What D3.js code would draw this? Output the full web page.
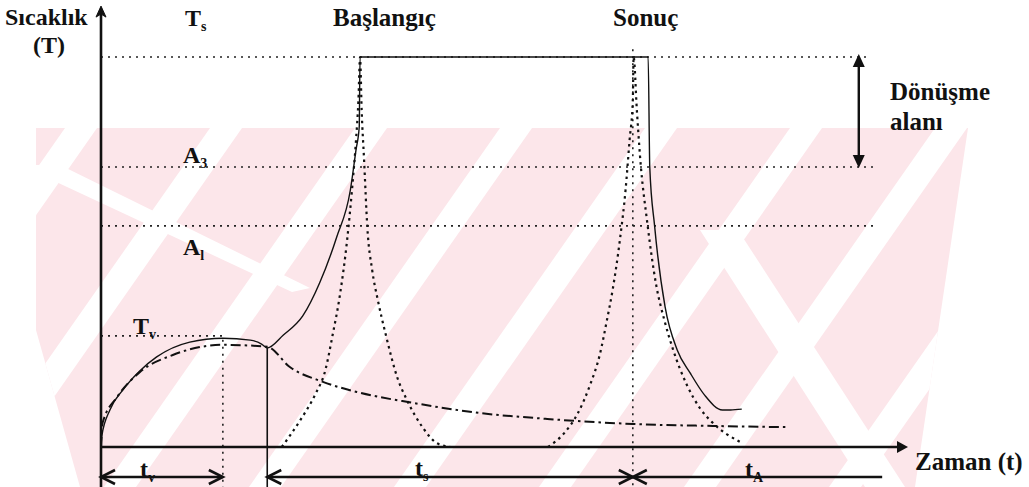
<!DOCTYPE html>
<html>
<head>
<meta charset="utf-8">
<script src="https://cdn.jsdelivr.net/npm/d3@7"></script>
<style>
  body { margin: 0; background: #fff; }
  svg { display: block; }
</style>
</head>
<body>
<svg id="chart" width="1029" height="487"></svg>
<script>
// time runs 0..10, temperature 0..100 (100 = Ts)
var levelNames = ["Ts", "A3", "A1", "Tv"];
var levelTemps = [100, 71.8, 56.7, 28.5];
var levelEnds  = [9.5, 9.6, 9.6, 1.51];

// surface temperature (solid)
var surface = [[0,0],[0.01,2.8],[0.11,9.5],[0.27,14.6],[0.48,19.5],[0.69,23.1],[1.1,26.9],
  [1.51,27.9],[1.85,27.4],[1.99,26.4],[2.06,25.4],[2.26,28.7],[2.5,33.6],[2.71,42.1],
  [2.92,53.8],[3.09,65.9],[3.16,76.2],[3.2,82.1],[3.21,100],[6.78,100],[6.8,71.8],
  [6.86,56.7],[6.99,35.9],[7.14,24.9],[7.3,19.0],[7.48,13.3],[7.7,9.5],[7.8,9.5],[7.94,9.7]];

// core temperature (dash-dot)
var core = [[0,0],[0.02,6.2],[0.2,12.8],[0.48,19.2],[0.89,23.6],[1.31,25.9],[1.51,26.2],
  [2.06,25.7],[2.34,20.5],[2.75,16.7],[3.17,14.1],[3.87,11.3],[4.7,8.7],[5.53,7.2],
  [6.59,5.9],[7.58,5.4],[8.48,5.1]];

// transformation start / end (dotted)
var startCurve = [[2.24,0],[2.47,6.9],[2.65,13.3],[2.78,19.7],[2.87,28.7],[2.96,38.9],
  [3.05,53.1],[3.11,65.9],[3.16,78.7],[3.19,89.0],[3.21,100],[3.23,86.4],[3.26,73.6],
  [3.3,56.4],[3.36,45.4],[3.43,37.7],[3.53,28.7],[3.67,17.9],[3.79,12.1],[3.99,4.9],
  [4.16,1.0],[4.33,0]];
var endCurve = [[5.54,0],[5.75,3.8],[5.91,8.7],[6.06,15.9],[6.18,23.6],[6.27,32.6],
  [6.34,40.3],[6.43,53.1],[6.5,65.9],[6.55,78.7],[6.59,89.0],[6.6,100],[6.64,86.4],
  [6.68,74.4],[6.77,57.4],[6.88,41.5],[6.98,32.6],[7.09,24.9],[7.26,15.9],[7.42,10.0],
  [7.58,6.2],[7.92,1.3]];

var tV = 1.51, tStart = 2.06, tEnd = 6.59, tLast = 9.68;
var zoneX = 9.39;

var svg = d3.select("#chart");
var x = d3.scaleLinear().domain([0, 10]).range([101, 908]);
var y = d3.scaleLinear().domain([0, 100]).range([447, 57]);

var dimY = y(-7.7), extY = y(-10.3);

// faint background watermark: pink field cut by white diagonal stripes
var wm = svg.append("g");
wm.append("clipPath").attr("id", "wmclip")
  .append("path").attr("d", "M36,128H968L915,487H80L36,330Z");
var wg = wm.append("g").attr("clip-path", "url(#wmclip)");
wg.append("rect").attr("x", 0).attr("y", 128).attr("width", 1029).attr("height", 360).attr("fill", "#fce6ea");
d3.range(-3, 7).forEach(function(k) {
  var xb = 120 + 145 * k;
  wg.append("path")
      .attr("d", "M" + (xb - 16) + ",487L" + (xb + 235) + ",128H" + (xb + 267) + "L" + (xb + 16) + ",487Z")
      .attr("fill", "#fff");
});
wg.append("path").attr("d", "M20,165L60,165L310,288L292,292Z").attr("fill", "#fff");
wg.append("path").attr("d", "M700,230L738,230L905,487L865,487Z").attr("fill", "#fff");

var line = d3.line()
    .x(function(d) { return x(d[0]); })
    .y(function(d) { return y(d[1]); })
    .curve(d3.curveMonotoneX);

// level lines
svg.selectAll("line.level")
    .data(levelTemps)
  .enter().append("line")
    .attr("class", "level")
    .attr("x1", x(0)).attr("x2", function(d, i) { return x(levelEnds[i]); })
    .attr("y1", y).attr("y2", y)
    .attr("stroke", "#222").attr("stroke-width", 1.6)
    .attr("stroke-dasharray", "2,5");

// guide verticals
svg.append("line").attr("x1", x(tV)).attr("x2", x(tV))
    .attr("y1", y(levelTemps[3]) + 4).attr("y2", extY)
    .attr("stroke", "#222").attr("stroke-width", 1.6).attr("stroke-dasharray", "2,5");
svg.append("line").attr("x1", x(tEnd)).attr("x2", x(tEnd))
    .attr("y1", y(102)).attr("y2", extY)
    .attr("stroke", "#222").attr("stroke-width", 1.6).attr("stroke-dasharray", "2,5");
svg.append("line").attr("x1", x(tStart)).attr("x2", x(tStart))
    .attr("y1", y(25.4)).attr("y2", extY)
    .attr("stroke", "#111").attr("stroke-width", 1.6);

// curves
svg.append("path").datum(startCurve).attr("d", line)
    .attr("fill", "none").attr("stroke", "#111").attr("stroke-width", 2.2)
    .attr("stroke-dasharray", "2.5,4");
svg.append("path").datum(endCurve).attr("d", line)
    .attr("fill", "none").attr("stroke", "#111").attr("stroke-width", 2.2)
    .attr("stroke-dasharray", "2.5,4");
svg.append("path").datum(core).attr("d", line)
    .attr("fill", "none").attr("stroke", "#111").attr("stroke-width", 2)
    .attr("stroke-dasharray", "10,4,2.5,4");
svg.append("path").datum(surface).attr("d", line)
    .attr("fill", "none").attr("stroke", "#111").attr("stroke-width", 1.4);

// axes
svg.append("line").attr("x1", x(0)).attr("x2", x(0))
    .attr("y1", y(111)).attr("y2", extY)
    .attr("stroke", "#111").attr("stroke-width", 2.6);
svg.append("line").attr("x1", x(0)).attr("x2", x(10) - 6)
    .attr("y1", y(0)).attr("y2", y(0))
    .attr("stroke", "#111").attr("stroke-width", 2.6);
svg.append("path")
    .attr("d", "M" + x(0) + "," + (y(111) - 8) + "l-5,11l5,-3l5,3z")
    .attr("fill", "#111").attr("stroke", "#111").attr("stroke-width", 1);
svg.append("path")
    .attr("d", "M" + x(10) + "," + y(0) + "l-11,-6v12z")
    .attr("fill", "#111");

// transformation zone arrow
svg.append("line").attr("x1", x(zoneX)).attr("x2", x(zoneX))
    .attr("y1", y(100) + 4).attr("y2", y(levelTemps[1]) - 4)
    .attr("stroke", "#111").attr("stroke-width", 2.4);
svg.append("path").attr("d", "M" + x(zoneX) + "," + (y(100) - 3) + "l-6,13h12z").attr("fill", "#111");
svg.append("path").attr("d", "M" + x(zoneX) + "," + (y(levelTemps[1]) + 1) + "l-6,-13h12z").attr("fill", "#111");

// dimension lines
var dims = [[0, tV, true, true], [tStart, tEnd, true, true], [tEnd, tLast, true, false]];
dims.forEach(function(d) {
  svg.append("line").attr("x1", x(d[0])).attr("x2", x(d[1]))
      .attr("y1", dimY).attr("y2", dimY)
      .attr("stroke", "#111").attr("stroke-width", 2.6);
  if (d[2]) svg.append("path").attr("d", "M" + (x(d[0]) + 14) + "," + (dimY - 7) + "L" + x(d[0]) + "," + dimY + "L" + (x(d[0]) + 14) + "," + (dimY + 7))
      .attr("fill", "none").attr("stroke", "#111").attr("stroke-width", 2.6);
  if (d[3]) svg.append("path").attr("d", "M" + (x(d[1]) - 14) + "," + (dimY - 7) + "L" + x(d[1]) + "," + dimY + "L" + (x(d[1]) - 14) + "," + (dimY + 7))
      .attr("fill", "none").attr("stroke", "#111").attr("stroke-width", 2.6);
});

// labels
function label(px, py, main, sub, size) {
  var t = svg.append("text").attr("x", px).attr("y", py)
      .attr("font-family", "'Liberation Serif', 'Times New Roman', serif")
      .attr("font-weight", "bold").attr("fill", "#111")
      .attr("font-size", size || 24).text(main);
  if (sub) t.append("tspan").attr("dy", 5).attr("font-size", 14).text(sub);
  return t;
}
label(5, 25, "Sıcaklık");
label(33, 53, "(T)");
label(185, 26, "T", "s");
label(333, 26, "Başlangıç", null, 25);
label(613, 26, "Sonuç", null, 25);
label(890, 100, "Dönüşme", null, 25);
label(890, 130, "alanı", null, 25);
label(183, 163, "A", "3");
label(183, 255, "A", "l");
label(133, 334, "T", "v");
label(915, 470, "Zaman (t)", null, 25);
label(140, dimY, "t", "v");
label(415, dimY - 1, "t", "s");
label(745, dimY, "t", "A");
</script>
</body>
</html>
